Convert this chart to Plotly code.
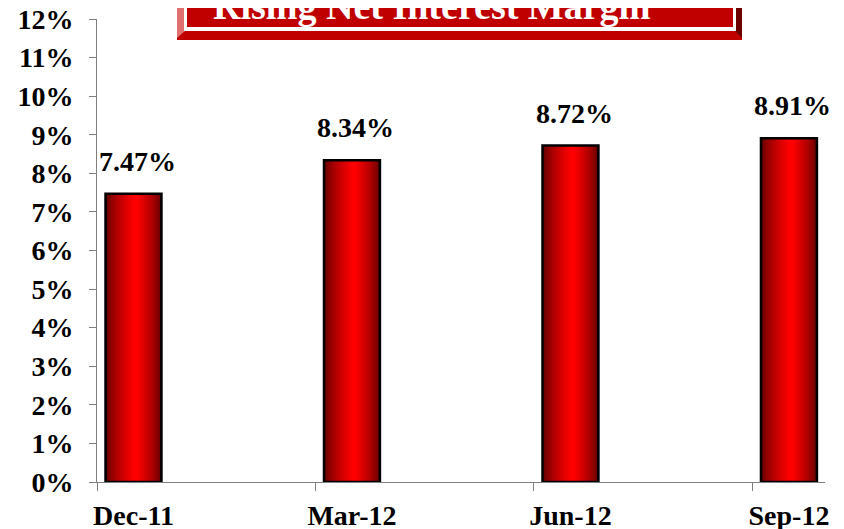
import plotly.graph_objects as go

# data
quarters = ["Dec-11", "Mar-12", "Jun-12", "Sep-12"]
nim = [7.47, 8.34, 8.72, 8.91]
y_ticks = list(range(0, 13))
y_labels = [f"{v}%" for v in y_ticks]

# the page body adds an 8px margin, so the figure is made 8px smaller
OFF = 8
W, H = 844 - OFF, 529 - OFF
L, R, T, B = 97 - OFF, 19, 19 - OFF, 47

def px(x):
    # page pixel -> paper fraction
    return (x - OFF - L) / (W - L - R)

def py(y):
    return (H - B - (y - OFF)) / (H - T - B)

serif = "Liberation Serif, Times New Roman, serif"
xpos = list(range(len(quarters)))
bar_w = 0.256
fs = 28

fig = go.Figure()

# fake a horizontal gradient with stacked narrower bars
n = 16
dark = (95, 0, 0)
bright = (255, 0, 0)
peak = 0.01
for k in range(n):
    t = k / (n - 1)
    left = -bar_w / 2 + t * (peak + bar_w / 2) * 0.92
    right = bar_w / 2 - t * (bar_w / 2 - peak) * 0.92
    s = t ** 0.7
    col = "rgb(%d,%d,%d)" % tuple(int(dark[i] + (bright[i] - dark[i]) * s) for i in range(3))
    fig.add_trace(go.Bar(
        x=xpos, y=nim, width=right - left, offset=left,
        marker=dict(color=col, line=dict(width=0)),
        hoverinfo="skip", showlegend=False,
    ))

# outline
fig.add_trace(go.Bar(
    x=xpos, y=nim, width=bar_w, offset=-bar_w / 2,
    marker=dict(color="rgba(0,0,0,0)", line=dict(color="black", width=2.5)),
    showlegend=False,
))

# value labels
for q, v in zip(xpos, nim):
    fig.add_annotation(x=q, y=v, text=f"{v:.2f}%", showarrow=False,
                       yanchor="bottom", yshift=15, xshift=4,
                       font=dict(family=serif, size=fs, color="black", weight="bold"))

# small ticks between categories on an overlay axis
fig.add_trace(go.Scatter(x=[0], y=[0], xaxis="x2", mode="markers",
                         marker=dict(opacity=0), hoverinfo="skip", showlegend=False))

# title box
shapes = []
def rect(x0, y0, x1, y1, color):
    shapes.append(dict(type="rect", xref="paper", yref="paper", x0=px(x0), x1=px(x1),
                       y0=py(y1), y1=py(y0), fillcolor=color, line=dict(width=0), layer="above"))

def poly(pts, color):
    p = "M " + " L ".join(f"{px(a)},{py(b)}" for a, b in pts) + " Z"
    shapes.append(dict(type="path", xref="paper", yref="paper", path=p,
                       fillcolor=color, line=dict(width=0), layer="above"))

poly([(177, -20), (742, -20), (742, 40), (177, 40)], "#c00000")
poly([(177, -20), (186, -20), (186, 30), (177, 38)], "#e07070")
poly([(734, -20), (742, -20), (742, 38), (734, 30)], "#6a0000")
rect(184, -20, 736, 31, "white")
rect(187, -20, 733, 27, "#c00000")
fig.update_layout(shapes=shapes)

fig.add_annotation(xref="paper", yref="paper", x=px(431), y=py(6), yanchor="middle",
                   text="Rising Net Interest Margin", showarrow=False,
                   font=dict(family=serif, size=38, color="white", weight="bold"))

axis_col = "#7f7f7f"
x_range = [-0.167, 3.165]
fig.update_layout(
    width=W, height=H,
    margin=dict(l=L, r=R, t=T, b=B),
    paper_bgcolor="white", plot_bgcolor="white",
    barmode="overlay",
    xaxis=dict(range=x_range, tickvals=xpos, ticktext=quarters, ticks="",
               showline=True, linecolor=axis_col, linewidth=1, showgrid=False,
               zeroline=False, ticklabelstandoff=8, automargin=False,
               ticklabeloverflow="allow",
               tickfont=dict(family=serif, size=fs, color="black", weight="bold")),
    xaxis2=dict(overlaying="x", side="bottom", range=x_range,
                tickvals=[i - 0.167 for i in xpos], ticks="outside", ticklen=8,
                tickcolor=axis_col, showticklabels=False, showgrid=False,
                zeroline=False, showline=False, automargin=False),
    yaxis=dict(range=[0, 12], tickvals=y_ticks, ticktext=y_labels, ticks="outside",
               ticklen=7, tickcolor=axis_col, showline=True, linecolor=axis_col,
               linewidth=1, showgrid=False, zeroline=False, ticklabelstandoff=10,
               automargin=False, ticklabeloverflow="allow",
               tickfont=dict(family=serif, size=fs, color="black", weight="bold")),
)

fig.write_html("out.html")
